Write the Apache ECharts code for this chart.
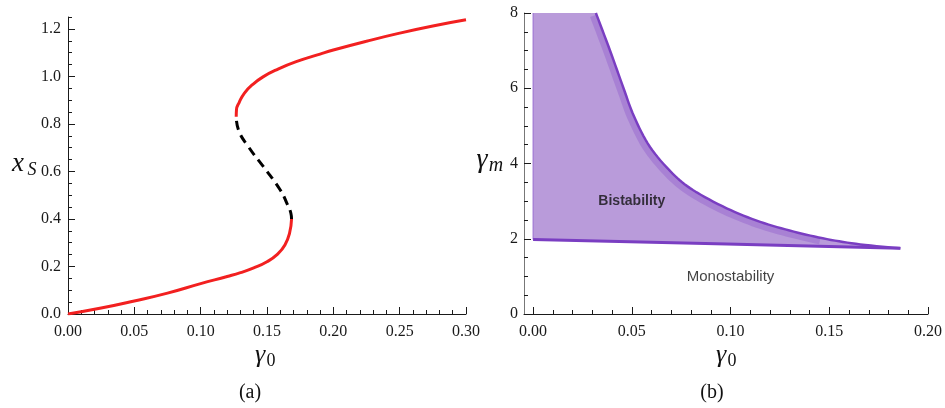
<!DOCTYPE html>
<html>
<head>
<meta charset="utf-8">
<script src="https://cdn.jsdelivr.net/npm/echarts@6/dist/echarts.min.js"></script>
<style>
  html, body { margin: 0; padding: 0; background: #fff; }
  #chart { width: 945px; height: 408px; }
</style>
</head>
<body>
<div id="chart"></div>
<script>
// (a) steady state x_S vs gamma_0
var stableLow = [[0, 0], [0.025, 0.025], [0.05, 0.055], [0.075, 0.088], [0.10, 0.128],
  [0.12, 0.158], [0.13, 0.174], [0.14, 0.194], [0.15, 0.22], [0.158, 0.252],
  [0.1635, 0.29], [0.167, 0.34], [0.1685, 0.40]]
var unstableMid = [[0.1685, 0.40], [0.168, 0.424], [0.165, 0.466], [0.160, 0.522],
  [0.1473, 0.62], [0.136, 0.704], [0.1285, 0.775], [0.1268, 0.83]]
var stableHigh = [[0.1268, 0.83], [0.127, 0.86], [0.129, 0.89], [0.133, 0.93], [0.139, 0.965],
  [0.147, 0.998], [0.158, 1.03], [0.172, 1.062], [0.19, 1.094], [0.2, 1.111], [0.225, 1.148],
  [0.25, 1.182], [0.275, 1.212], [0.3, 1.238]]

// (b) bistability region: upper boundary curve and straight edges (gamma_0, gamma_m)
var regionCurve = [[0.0318, 8], [0.0389, 7.01], [0.0458, 6.0], [0.0512, 5.24],
  [0.0592, 4.44], [0.0705, 3.74], [0.0811, 3.29], [0.098, 2.81], [0.115, 2.45], [0.132, 2.19],
  [0.1488, 1.99], [0.1657, 1.85], [0.186, 1.745]]
var regionBottom = [[0.186, 1.745], [0.098, 1.86], [0, 1.98]]
var regionLeft = [[0, 1.98], [0, 8]]

var xTicksB = [0, 0.05, 0.10, 0.15, 0.20]
var xMinorB = [0.01, 0.02, 0.03, 0.04, 0.06, 0.07, 0.08, 0.09, 0.11, 0.12, 0.13, 0.14,
  0.16, 0.17, 0.18, 0.19]
var yTicksA = [0, 0.2, 0.4, 0.6, 0.8, 1.0, 1.2]

var regionLabels = [
  { name: 'Bistability', value: [0.05, 3.0], bold: true },
  { name: 'Monostability', value: [0.1, 1.0], bold: false }
]

var serif = '"Liberation Serif", "DejaVu Serif", serif'
var sans = '"Liberation Sans", Arial, sans-serif'
var tickFont = { fontFamily: serif, fontSize: 16, color: '#1a1a1a' }
var tickColor = '#1a1a1a'

// catmull-rom through pixel points, only for drawing a smooth edge
function smoothPixels(pts) {
  var out = []
  for (var i = 0; i < pts.length - 1; i++) {
    var p0 = pts[Math.max(i - 1, 0)], p1 = pts[i], p2 = pts[i + 1], p3 = pts[Math.min(i + 2, pts.length - 1)]
    for (var s = 0; s < 8; s++) {
      var t = s / 8, t2 = t * t, t3 = t2 * t
      out.push([
        0.5 * (2 * p1[0] + (-p0[0] + p2[0]) * t + (2 * p0[0] - 5 * p1[0] + 4 * p2[0] - p3[0]) * t2 + (-p0[0] + 3 * p1[0] - 3 * p2[0] + p3[0]) * t3),
        0.5 * (2 * p1[1] + (-p0[1] + p2[1]) * t + (2 * p0[1] - 5 * p1[1] + 4 * p2[1] - p3[1]) * t2 + (-p0[1] + 3 * p1[1] - 3 * p2[1] + p3[1]) * t3)
      ])
    }
  }
  out.push(pts[pts.length - 1])
  return out
}

var chart = echarts.init(document.getElementById('chart'))

var option = {
  animation: false,
  grid: [
    { left: 68, top: 17, width: 398, height: 297 },
    { left: 524, top: 13, width: 404, height: 301 }
  ],
  xAxis: [
    {
      gridIndex: 0, type: 'value', min: 0, max: 0.3, interval: 0.05,
      axisLine: { onZero: false, lineStyle: { color: tickColor, width: 1 } },
      axisTick: { inside: true, length: 7, lineStyle: { color: tickColor } },
      minorTick: { show: true, splitNumber: 5, length: 4, lineStyle: { color: tickColor } },
      axisLabel: Object.assign({ margin: 10, formatter: function (v) { return v.toFixed(2) } }, tickFont),
      splitLine: { show: false }
    },
    {
      gridIndex: 1, type: 'value', min: -0.0046, max: 0.2,
      axisLine: { onZero: false, lineStyle: { color: tickColor, width: 1 } },
      axisTick: { inside: true, length: 7, customValues: xTicksB, lineStyle: { color: tickColor } },
      axisLabel: Object.assign({ margin: 10, customValues: xTicksB, formatter: function (v) { return v.toFixed(2) } }, tickFont),
      splitLine: { show: false }
    },
    {
      gridIndex: 1, type: 'value', min: -0.0046, max: 0.2, position: 'bottom',
      axisLine: { show: false, onZero: false },
      axisTick: { inside: true, length: 4, customValues: xMinorB, lineStyle: { color: tickColor } },
      axisLabel: { show: false },
      splitLine: { show: false }
    }
  ],
  yAxis: [
    {
      gridIndex: 0, type: 'value', min: 0, max: 1.25, interval: 0.2, position: 'left',
      axisLine: { show: true, onZero: false, lineStyle: { color: tickColor, width: 1 } },
      axisTick: { show: true, inside: true, length: 7, customValues: yTicksA, lineStyle: { color: tickColor } },
      axisLabel: Object.assign({ margin: 7, customValues: yTicksA, formatter: function (v) { return v.toFixed(1) } }, tickFont),
      splitLine: { show: false }
    },
    {
      gridIndex: 0, type: 'value', min: 0, max: 1.25, interval: 0.05, position: 'left',
      axisLine: { show: false, onZero: false },
      axisTick: { show: true, inside: true, length: 4, lineStyle: { color: tickColor } },
      axisLabel: { show: false },
      splitLine: { show: false }
    },
    {
      gridIndex: 1, type: 'value', min: 0, max: 8, interval: 2, position: 'left',
      axisLine: { show: true, onZero: false, lineStyle: { color: '#777', width: 1 } },
      axisTick: { show: true, inside: true, length: 7, lineStyle: { color: tickColor } },
      minorTick: { show: true, splitNumber: 4, length: 4, lineStyle: { color: tickColor } },
      axisLabel: Object.assign({ margin: 6 }, tickFont),
      splitLine: { show: false }
    }
  ],
  series: [
    {
      type: 'line', xAxisIndex: 0, yAxisIndex: 0, data: stableLow, smooth: 0.5,
      showSymbol: false, lineStyle: { color: '#f22020', width: 3 }
    },
    {
      type: 'line', xAxisIndex: 0, yAxisIndex: 0, data: unstableMid, smooth: 0.5,
      showSymbol: false, lineStyle: { color: '#000', width: 3, type: [9, 6] }
    },
    {
      type: 'line', xAxisIndex: 0, yAxisIndex: 0, data: stableHigh, smooth: 0.5,
      showSymbol: false, lineStyle: { color: '#f22020', width: 3 }
    },
    {
      type: 'custom', xAxisIndex: 1, yAxisIndex: 2, data: [0], z: 1,
      renderItem: function (params, api) {
        var curve = smoothPixels(regionCurve.map(function (p) { return api.coord(p) }))
        var bottom = regionBottom.map(function (p) { return api.coord(p) })
        var left = regionLeft.map(function (p) { return api.coord(p) })
        var fillPts = left.concat(curve, bottom.slice(1))
        var band = curve.slice(0, 10 * 8).map(function (p) { return [p[0] - 3, p[1] + 3] })
        return {
          type: 'group',
          children: [
            { type: 'polygon', shape: { points: fillPts }, style: { fill: '#b99bda' } },
            { type: 'polyline', shape: { points: band }, style: { stroke: 'rgba(130,70,200,0.3)', lineWidth: 6, fill: null } },
            { type: 'polyline', shape: { points: left }, style: { stroke: '#9a6fd2', lineWidth: 1, fill: null } },
            { type: 'polyline', shape: { points: curve }, style: { stroke: '#7a3ec2', lineWidth: 2.5, fill: null } },
            { type: 'polyline', shape: { points: bottom }, style: { stroke: '#7a3ec2', lineWidth: 3, fill: null } }
          ]
        }
      }
    },
    {
      type: 'scatter', xAxisIndex: 1, yAxisIndex: 2, symbolSize: 0, silent: true,
      data: regionLabels.map(function (d) {
        return {
          name: d.name, value: d.value,
          label: { fontWeight: d.bold ? 'bold' : 'normal', fontSize: d.bold ? 14 : 15 }
        }
      }),
      label: {
        show: true, position: 'inside', formatter: '{b}',
        fontFamily: sans, color: '#111'
      }
    }
  ],
  graphic: [
    { type: 'text', x: 18, y: 164, style: { text: 'x', font: 'italic 27px ' + serif, fill: '#111', textAlign: 'center', textVerticalAlign: 'middle' } },
    { type: 'text', x: 32, y: 170, style: { text: 'S', font: 'italic 18px ' + serif, fill: '#111', textAlign: 'center', textVerticalAlign: 'middle' } },
    { type: 'text', x: 260, y: 355, style: { text: 'γ', font: 'italic 26px ' + serif, fill: '#111', textAlign: 'center', textVerticalAlign: 'middle' } },
    { type: 'text', x: 271, y: 361, style: { text: '0', font: '18px ' + serif, fill: '#111', textAlign: 'center', textVerticalAlign: 'middle' } },
    { type: 'text', x: 250, y: 393, style: { text: '(a)', font: '20px ' + serif, fill: '#111', textAlign: 'center', textVerticalAlign: 'middle' } },
    { type: 'text', x: 482, y: 160, style: { text: 'γ', font: 'italic 28px ' + serif, fill: '#111', textAlign: 'center', textVerticalAlign: 'middle' } },
    { type: 'text', x: 496, y: 166, style: { text: 'm', font: 'italic 20px ' + serif, fill: '#111', textAlign: 'center', textVerticalAlign: 'middle' } },
    { type: 'text', x: 721, y: 355, style: { text: 'γ', font: 'italic 26px ' + serif, fill: '#111', textAlign: 'center', textVerticalAlign: 'middle' } },
    { type: 'text', x: 732, y: 361, style: { text: '0', font: '18px ' + serif, fill: '#111', textAlign: 'center', textVerticalAlign: 'middle' } },
    { type: 'text', x: 712, y: 393, style: { text: '(b)', font: '20px ' + serif, fill: '#111', textAlign: 'center', textVerticalAlign: 'middle' } }
  ]
}

chart.setOption(option)
</script>
</body>
</html>
